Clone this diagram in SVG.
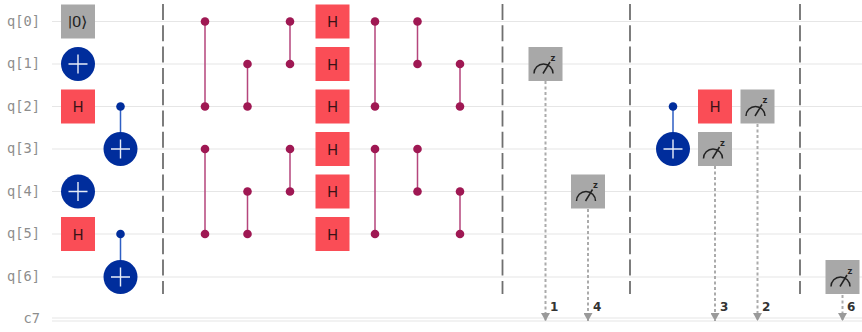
<svg xmlns="http://www.w3.org/2000/svg" width="862" height="332" viewBox="0 0 862 332">
<style>
text{font-family:"Roboto","Liberation Sans",sans-serif}
.wire{stroke:#e6e6e6;stroke-width:1.2;fill:none}
.lab{font-family:"DejaVu Sans Mono","Liberation Mono",monospace;font-size:13.700px;fill:#8d8d8d;text-anchor:end}
.bar{stroke:#6f6f6f;stroke-width:1.8;stroke-dasharray:16 5.3;fill:none}
.cz{stroke:#b5457c;stroke-width:1.5;fill:none}
.czd{fill:#9f1853}
.cx{stroke:#2f5fc4;stroke-width:1.5;fill:none}
.cxd{fill:#002d9c}
.meas{stroke:#ababab;stroke-width:2;stroke-dasharray:3 2.500;fill:none}
.bit{font-family:"DejaVu Sans",sans-serif;font-size:12px;font-weight:bold;fill:#333}
.h{fill:#fa4d56}
.g{fill:#a8a8a8}
.t{font-size:15px;fill:#3a1216;text-anchor:middle}
</style>
<defs>
<g id="H"><rect class="h" x="-17" y="-17" width="34" height="34"/><text class="t" y="5.500">H</text></g>
<g id="X"><circle r="17" fill="#002d9c"/><path d="M-9.500 0H9.500M0-9.500V9.500" stroke="#e8edf8" stroke-width="1.400" fill="none"/></g>
<g id="M"><rect class="g" x="-17" y="-17" width="34" height="34"/><path d="M-11.500 9.500A9.500 9.500 0 0 1 7.500 9.500M-2.500 9.500L4.500-2" stroke="#222" stroke-width="1.500" fill="none"/><text x="7.500" y="-3.500" font-size="9.500" font-weight="bold" fill="#222" text-anchor="middle">z</text></g>
<marker id="a" markerWidth="9" markerHeight="8" refX="4.500" refY="8" orient="0" viewBox="0 0 9 8" markerUnits="userSpaceOnUse"><path d="M0 0H9L4.500 8Z" fill="#9a9a9a"/></marker>
</defs>
<g id="wires">
<path class="wire" d="M52 21.500H862M52 64H862M52 106.500H862M52 149H862M52 191.500H862M52 234H862M52 277H862M52 318H862M52 321H862"/>
</g>
<g id="labels">
<text class="lab" x="40" y="25.500">q[0]</text>
<text class="lab" x="40" y="68">q[1]</text>
<text class="lab" x="40" y="110.500">q[2]</text>
<text class="lab" x="40" y="153">q[3]</text>
<text class="lab" x="40" y="195.500">q[4]</text>
<text class="lab" x="40" y="238">q[5]</text>
<text class="lab" x="40" y="281">q[6]</text>
<text class="lab" x="40" y="323">c7</text>
</g>
<g id="barriers">
<path class="bar" d="M163 4V294M502.500 4V294M630 4V294M800 4V294"/>
</g>
<g id="connectors">
<path class="cx" d="M120.500 106.500V149M120.500 234V277M673 106.500V149"/>
<path class="cz" d="M205 21.500V106.500M247.500 64V106.500M290 21.500V64M375 21.500V106.500M417.500 21.500V64M460 64V106.500M205 149V234M247.500 191.500V234M290 149V191.500M375 149V234M417.500 149V191.500M460 191.500V234"/>
<path class="meas" marker-end="url(#a)" d="M545.500 81V321"/>
<path class="meas" marker-end="url(#a)" d="M588 209V321"/>
<path class="meas" marker-end="url(#a)" d="M715 166V321"/>
<path class="meas" marker-end="url(#a)" d="M757.500 124V321"/>
<path class="meas" marker-end="url(#a)" d="M842.500 295V321"/>
</g>
<g id="dots">
<g class="czd">
<circle cx="205" cy="21.500" r="4.300"/><circle cx="205" cy="106.500" r="4.300"/><circle cx="247.500" cy="64" r="4.300"/><circle cx="247.500" cy="106.500" r="4.300"/><circle cx="290" cy="21.500" r="4.300"/><circle cx="290" cy="64" r="4.300"/><circle cx="375" cy="21.500" r="4.300"/><circle cx="375" cy="106.500" r="4.300"/><circle cx="417.500" cy="21.500" r="4.300"/><circle cx="417.500" cy="64" r="4.300"/><circle cx="460" cy="64" r="4.300"/><circle cx="460" cy="106.500" r="4.300"/>
<circle cx="205" cy="149" r="4.300"/><circle cx="205" cy="234" r="4.300"/><circle cx="247.500" cy="191.500" r="4.300"/><circle cx="247.500" cy="234" r="4.300"/><circle cx="290" cy="149" r="4.300"/><circle cx="290" cy="191.500" r="4.300"/><circle cx="375" cy="149" r="4.300"/><circle cx="375" cy="234" r="4.300"/><circle cx="417.500" cy="149" r="4.300"/><circle cx="417.500" cy="191.500" r="4.300"/><circle cx="460" cy="191.500" r="4.300"/><circle cx="460" cy="234" r="4.300"/>
</g>
<g class="cxd"><circle cx="120.500" cy="106.500" r="4.300"/><circle cx="120.500" cy="234" r="4.300"/><circle cx="673" cy="106.500" r="4.300"/></g>
</g>
<g id="init-q0" transform="translate(78 21.500)"><rect class="g" x="-17" y="-17" width="34" height="34"/><text y="5.500" font-size="15" fill="#222" text-anchor="middle" font-family="DejaVu Sans" textLength="20" lengthAdjust="spacingAndGlyphs">|0⟩</text></g>
<g id="x-q1"><use href="#X" x="78" y="64"/></g>
<g id="h-q2"><use href="#H" x="78" y="106.500"/></g>
<g id="x-q3"><use href="#X" x="120.500" y="149"/></g>
<g id="x-q4"><use href="#X" x="78" y="191.500"/></g>
<g id="h-q5"><use href="#H" x="78" y="234"/></g>
<g id="x-q6"><use href="#X" x="120.500" y="277"/></g>
<g id="h2-q0"><use href="#H" x="332.500" y="21.500"/></g>
<g id="h2-q1"><use href="#H" x="332.500" y="64"/></g>
<g id="h2-q2"><use href="#H" x="332.500" y="106.500"/></g>
<g id="h2-q3"><use href="#H" x="332.500" y="149"/></g>
<g id="h2-q4"><use href="#H" x="332.500" y="191.500"/></g>
<g id="h2-q5"><use href="#H" x="332.500" y="234"/></g>
<g id="m-q1"><use href="#M" x="545.500" y="64"/></g>
<g id="m-q4"><use href="#M" x="588" y="191.500"/></g>
<g id="x2-q3"><use href="#X" x="673" y="149"/></g>
<g id="h3-q2"><use href="#H" x="715" y="106.500"/></g>
<g id="m-q3"><use href="#M" x="715" y="149"/></g>
<g id="m-q2"><use href="#M" x="757.500" y="106.500"/></g>
<g id="m-q6"><use href="#M" x="842.500" y="277"/></g>
<g id="bits">
<text class="bit" x="550" y="311">1</text>
<text class="bit" x="593" y="311">4</text>
<text class="bit" x="720" y="311">3</text>
<text class="bit" x="762" y="311">2</text>
<text class="bit" x="847" y="311">6</text>
</g>
</svg>
